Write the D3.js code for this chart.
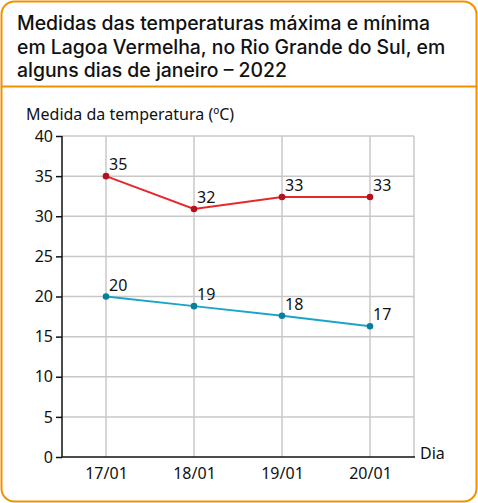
<!DOCTYPE html>
<html><head><meta charset="utf-8">
<script src="https://cdn.jsdelivr.net/npm/d3@7"></script>
<style>body{margin:0;background:#fff}svg{display:block}</style>
</head><body>
<script>
const days = ["17/01","18/01","19/01","20/01"];
const maxValues = [35, 30.9, 32.4, 32.4];
const maxLabels = ["35","32","33","33"];
const minValues = [20, 18.8, 17.6, 16.3];
const minLabels = ["20","19","18","17"];
const yTicks = [0,5,10,15,20,25,30,35,40];
const titleLines = ["Medidas das temperaturas máxima e mínima","em Lagoa Vermelha, no Rio Grande do Sul, em","alguns dias de janeiro – 2022"];

const W=478,H=503;
const svg=d3.select("body").append("svg").attr("width",W).attr("height",H);
const orange="#f39200";
svg.append("rect").attr("x",1.5).attr("y",1.5).attr("width",W-3).attr("height",H-3).attr("rx",13).attr("fill","#fff").attr("stroke",orange).attr("stroke-width",2);
svg.append("line").attr("x1",1.5).attr("x2",W-1.5).attr("y1",86.5).attr("y2",86.5).attr("stroke",orange).attr("stroke-width",2);
svg.append("g").selectAll("text").data(titleLines).join("text")
  .attr("x",17).attr("y",(d,i)=>30+i*23.5).text(d=>d)
  .attr("font-family","Inter").attr("font-weight",500).attr("font-size",19.4).attr("fill","#111");

const x0=62,x1=414,yTop=136,yBot=457;
const x=d3.scalePoint().domain(days).range([106,370]);
const y=d3.scaleLinear().domain([0,40]).range([yBot,yTop]);
const font="Noto Sans";
const fs=16;
const grid=svg.append("g").attr("stroke","#c8c8c8").attr("stroke-width",1.5);
grid.selectAll(".h").data(yTicks.filter(d=>d>0)).join("line").attr("x1",x0).attr("x2",x1).attr("y1",y).attr("y2",y);
grid.selectAll(".v").data(days).join("line").attr("x1",d=>x(d)).attr("x2",d=>x(d)).attr("y1",yTop).attr("y2",yBot);
grid.append("line").attr("x1",x1).attr("x2",x1).attr("y1",yTop).attr("y2",yBot);

const yAxis=svg.append("g").attr("transform",`translate(${x0},0)`).call(d3.axisLeft(y).tickValues(yTicks).tickSize(6).tickPadding(3));
yAxis.select(".domain").attr("stroke","#111").attr("stroke-width",1.5).attr("d",`M0,${yTop}V${yBot}`);
yAxis.selectAll("line").attr("stroke","#111").attr("stroke-width",1.5);
yAxis.selectAll("text").attr("font-family",font).attr("font-size",fs).attr("fill","#111");

const xAxis=svg.append("g").attr("transform",`translate(0,${yBot})`).call(d3.axisBottom(x).tickSize(0).tickPadding(11));
xAxis.select(".domain").attr("stroke","#111").attr("stroke-width",1.5).attr("d",`M${x0},0H${x1+1}`);
xAxis.selectAll("text").attr("font-family",font).attr("font-size",fs).attr("fill","#111");

svg.append("text").attr("x",420).attr("y",459).text("Dia").attr("font-family",font).attr("font-size",fs).attr("fill","#111");
svg.append("text").attr("x",26).attr("y",120).text("Medida da temperatura (ºC)").attr("font-family",font).attr("font-size",fs).attr("fill","#111");

function series(vals,labels,lineC,dotC){
  const g=svg.append("g");
  g.append("path").datum(vals).attr("fill","none").attr("stroke",lineC).attr("stroke-width",2)
   .attr("d",d3.line().x((d,i)=>x(days[i])).y(d=>y(d)));
  g.selectAll("circle").data(vals).join("circle").attr("cx",(d,i)=>x(days[i])).attr("cy",d=>y(d)).attr("r",3.3).attr("fill",dotC);
  g.selectAll("text").data(vals).join("text").attr("x",(d,i)=>x(days[i])+3).attr("y",d=>y(d)-6)
   .text((d,i)=>labels[i]).attr("font-family",font).attr("font-size",fs).attr("fill","#111");
}
series(maxValues,maxLabels,"#e6282b","#b3121c");
series(minValues,minLabels,"#1aa5c8","#07809b");
</script>
</body></html>
